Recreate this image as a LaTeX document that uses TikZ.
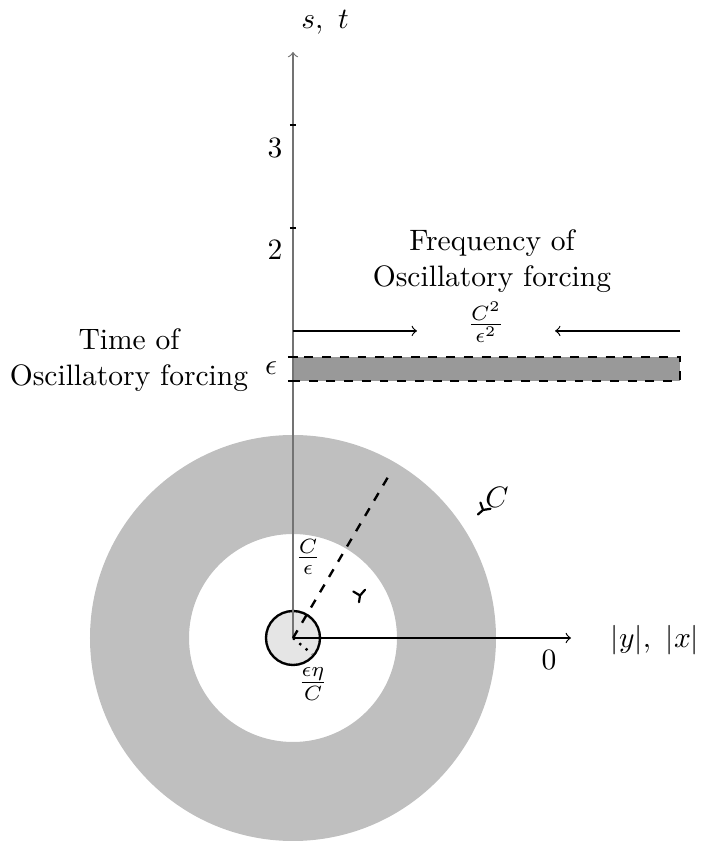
\documentclass[tikz,border=0pt]{standalone}
\usepackage{amssymb}
\usepackage{pgf, tikz}
\pgfdeclarelayer{shadelayer}
\pgfdeclarelayer{edgelayer}
\pgfdeclarelayer{nodelayer}
\pgfsetlayers{shadelayer,edgelayer,nodelayer,main}
\definecolor{ringgray}{gray}{0.75}
\definecolor{bandgray}{gray}{0.6}
\definecolor{diskgray}{gray}{0.9}
\definecolor{axisgray}{gray}{0.45}
\tikzstyle{edge}=[draw=black]
\tikzstyle{haxis}=[draw=black, ->]
\tikzstyle{vaxis}=[draw=axisgray, ->]
\tikzstyle{tickmark}=[draw=black, line width=0.7pt]
\tikzstyle{ray}=[draw=black, dashed, line width=0.8pt]
\tikzstyle{tipmark}=[draw=black, line width=0.75pt, line cap=round, line join=round]
\tikzstyle{txt}=[inner sep=0pt, align=center]

\begin{document}
\begin{tikzpicture}[scale=1.19]
				\useasboundingbox (-2.93, -2.03) rectangle (4.07, 6.38);
				\begin{pgfonlayer}{shadelayer}
					\fill [ringgray, even odd rule] (0, 0) circle (2.03) (0, 0) circle (1.04);
					\filldraw [fill=bandgray, draw=black, dashed, line width=0.8pt] (0, 2.57) rectangle (3.87, 2.81);
					\filldraw [fill=diskgray, draw=black, line width=0.8pt] (0, 0) circle (0.27);
				\end{pgfonlayer}
				\begin{pgfonlayer}{nodelayer}
					\coordinate (0) at (0, 0);
					\coordinate (1) at (0, 5.86);
					\coordinate (2) at (2.78, 0);
					\coordinate (3) at (0.98, 1.66);
					\coordinate (4) at (0.19, -0.16);
					\coordinate (5) at (0, 3.07);
					\coordinate (6) at (1.24, 3.07);
					\coordinate (7) at (3.87, 3.07);
					\coordinate (8) at (2.62, 3.07);
					\coordinate (9) at (0.67, 0.425);
					\coordinate (10) at (1.90, 1.28);
					\node [style=txt] (13) at (0.32, 6.16) {$s,\ t$};
					\node [style=txt] (14) at (3.62, -0.02) {$|y|,\ |x|$};
					\node [style=txt] (15) at (2.56, -0.22) {$0$};
					\node [style=txt] (16) at (-0.18, 4.90) {$3$};
					\node [style=txt] (17) at (-0.18, 3.88) {$2$};
					\node [style=txt] (18) at (-0.22, 2.70) {$\epsilon$};
					\node [style=txt] (19) at (-1.64, 2.78) {Time of\\Oscillatory forcing};
					\node [style=txt] (20) at (1.99, 3.77) {Frequency of\\Oscillatory forcing};
					\node [style=txt] (21) at (1.93, 3.16) {$\frac{C^2}{\epsilon^2}$};
					\node [style=txt] (22) at (0.15, 0.81) {$\frac{C}{\epsilon}$};
					\node [style=txt] (23) at (0.20, -0.46) {$\frac{\epsilon\eta}{C}$};
					\node [style=txt] (24) at (2.04, 1.41) {$C$};
				\end{pgfonlayer}
				\begin{pgfonlayer}{edgelayer}
					\draw [style=vaxis] (0) to (1);
					\draw [style=haxis] (0) to (2);
					\draw [style=ray] (0) to (3);
					\draw [dotted, line width=0.8pt] (0) to (4);
					\draw [style=edge, ->] (5) to (6);
					\draw [style=edge, ->] (7) to (8);
					% little marks
					\draw [style=tipmark] (9) ++(-0.067, 0.04) -- (9) -- ++(0.05, 0.057) (9) -- ++(-0.01, -0.067);
					\draw [style=tipmark] (10) ++(-0.026, 0.074) -- (10) -- ++(0.075, 0.012) (10) -- ++(-0.051, -0.045);
					\draw [style=tickmark] (-0.03, 5.13) to (0.03, 5.13);
					\draw [style=tickmark] (-0.03, 4.10) to (0.03, 4.10);
					\draw [style=tickmark] (-0.05, 2.81) to (0.05, 2.81);
					\draw [style=tickmark] (-0.05, 2.57) to (0.05, 2.57);
				\end{pgfonlayer}
			\end{tikzpicture}
\end{document}
